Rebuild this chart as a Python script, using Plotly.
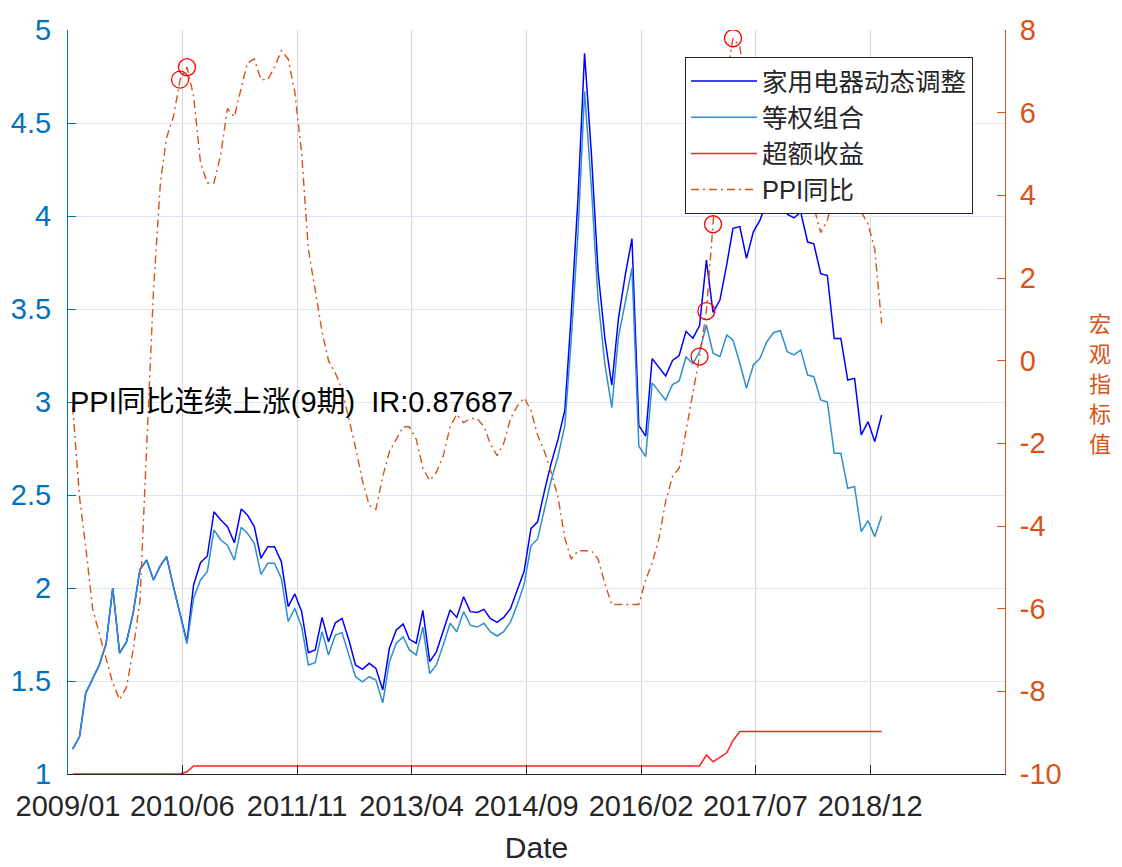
import pandas as pd
import plotly.graph_objects as go

# Data months (PPI month 2008-12 .. 2018-12), 121 points
months = pd.period_range("2008-12", "2018-12", freq="M")
# plotted position: roughly 3 weeks into following month (as in reference)
x_dates = [(p.to_timestamp() + pd.DateOffset(months=1) + pd.Timedelta(days=21)).strftime("%Y-%m-%d") for p in months]

dynamic_nav = [
    1.134, 1.20, 1.435, 1.515, 1.586, 1.70, 2.00, 1.65, 1.71, 1.864,
    2.10, 2.15, 2.043, 2.12, 2.168, 2.007, 1.864, 1.71, 2.016, 2.136,
    2.172, 2.41, 2.366, 2.33, 2.243, 2.425, 2.392, 2.33, 2.16, 2.222,
    2.222, 2.142, 1.90, 1.968, 1.873, 1.652, 1.667, 1.842, 1.711, 1.813,
    1.837, 1.72, 1.586, 1.563, 1.595, 1.568, 1.452, 1.676, 1.774, 1.806,
    1.724, 1.703, 1.88, 1.604, 1.657, 1.765, 1.882, 1.842, 1.953, 1.873,
    1.868, 1.885, 1.837, 1.815, 1.842, 1.89, 1.99, 2.09, 2.319, 2.356,
    2.522, 2.67, 2.799, 2.956, 3.456, 4.087, 4.875, 4.33, 3.70, 3.34,
    3.09, 3.45, 3.685, 3.878, 2.873, 2.817, 3.233, 3.186, 3.14, 3.223,
    3.25, 3.38, 3.343, 3.41, 3.763, 3.482, 3.548, 3.74, 3.934, 3.943,
    3.772, 3.915, 3.978, 4.08, 4.14, 4.15, 4.01, 3.99, 4.02, 3.86,
    3.85, 3.69, 3.68, 3.342, 3.342, 3.118, 3.127, 2.823, 2.894, 2.787,
    2.93,
]

equal_nav = [
    1.134, 1.20, 1.435, 1.515, 1.586, 1.70, 2.00, 1.65, 1.71, 1.864,
    2.10, 2.15, 2.043, 2.12, 2.168, 2.007, 1.864, 1.70, 1.945, 2.043,
    2.088, 2.312, 2.258, 2.23, 2.15, 2.326, 2.294, 2.24, 2.073, 2.133,
    2.133, 2.052, 1.82, 1.89, 1.79, 1.586, 1.598, 1.765, 1.64, 1.747,
    1.76, 1.64, 1.523, 1.496, 1.523, 1.505, 1.383, 1.604, 1.703, 1.738,
    1.667, 1.64, 1.79, 1.54, 1.586, 1.694, 1.81, 1.765, 1.873, 1.80,
    1.79, 1.81, 1.765, 1.742, 1.765, 1.818, 1.91, 2.02, 2.227, 2.264,
    2.43, 2.578, 2.707, 2.873, 3.323, 3.90, 4.67, 4.15, 3.55, 3.20,
    2.97, 3.35, 3.537, 3.72, 2.762, 2.707, 3.103, 3.057, 3.011, 3.094,
    3.113, 3.242, 3.205, 3.27, 3.414, 3.262, 3.244, 3.36, 3.333, 3.208,
    3.074, 3.199, 3.235, 3.324, 3.374, 3.383, 3.27, 3.253, 3.28, 3.145,
    3.136, 3.011, 3.00, 2.724, 2.724, 2.536, 2.545, 2.303, 2.362, 2.276,
    2.387,
]

excess = [
    1.0, 1.0, 1.0, 1.0, 1.0, 1.0, 1.0, 1.0, 1.0, 1.0,
    1.0, 1.0, 1.0, 1.0, 1.0, 1.0, 1.0, 1.012, 1.043, 1.043,
    1.043, 1.043, 1.043, 1.043, 1.043, 1.043, 1.043, 1.043, 1.043, 1.043,
    1.043, 1.043, 1.043, 1.043, 1.043, 1.043, 1.043, 1.043, 1.043, 1.043,
    1.043, 1.043, 1.043, 1.043, 1.043, 1.043, 1.043, 1.043, 1.043, 1.043,
    1.043, 1.043, 1.043, 1.043, 1.043, 1.043, 1.043, 1.043, 1.043, 1.043,
    1.043, 1.043, 1.043, 1.043, 1.043, 1.043, 1.043, 1.043, 1.043, 1.043,
    1.043, 1.043, 1.043, 1.043, 1.043, 1.043, 1.043, 1.043, 1.043, 1.043,
    1.043, 1.043, 1.043, 1.043, 1.043, 1.043, 1.043, 1.043, 1.043, 1.043,
    1.043, 1.043, 1.043, 1.043, 1.102, 1.066, 1.09, 1.114, 1.18, 1.228,
    1.228, 1.228, 1.228, 1.228, 1.228, 1.228, 1.228, 1.228, 1.228, 1.228,
    1.228, 1.228, 1.228, 1.228, 1.228, 1.228, 1.228, 1.228, 1.228, 1.228,
    1.228,
]

ppi_yoy = [
    -1.1,
    -3.3, -4.5, -6.0, -6.6, -7.2, -7.8, -8.2, -7.9, -7.0, -5.8, -2.1, 1.7,
    4.3, 5.4, 5.9, 6.8, 7.1, 6.4, 4.8, 4.3, 4.3, 5.0, 6.1, 5.9,
    6.6, 7.2, 7.3, 6.8, 6.8, 7.1, 7.5, 7.3, 6.5, 5.0, 2.7, 1.7,
    0.7, 0.0, -0.3, -0.7, -1.4, -2.1, -2.9, -3.5, -3.6, -2.8, -2.2, -1.9,
    -1.6, -1.6, -1.9, -2.6, -2.9, -2.7, -2.3, -1.6, -1.3, -1.5, -1.4, -1.4,
    -1.6, -2.0, -2.3, -2.0, -1.4, -1.1, -0.9, -1.2, -1.8, -2.2, -2.7, -3.3,
    -4.3, -4.8, -4.6, -4.6, -4.6, -4.8, -5.4, -5.9, -5.9, -5.9, -5.9, -5.9,
    -5.3, -4.9, -4.3, -3.4, -2.8, -2.6, -1.7, -0.8, 0.1, 1.2, 3.3, 5.5,
    6.9, 7.8, 7.6, 6.4, 5.5, 5.5, 5.5, 6.3, 6.9, 6.9, 5.8, 4.9,
    4.3, 3.7, 3.1, 3.4, 4.1, 4.7, 4.6, 4.1, 3.6, 3.3, 2.7, 0.9,
]

# months flagged by "PPI同比连续上涨(9期)" signal
signal_idx = [16, 17, 93, 94, 95, 96, 97, 98]

tick_dates = ["2009-01-01", "2010-06-01", "2011-11-01", "2013-04-01",
              "2014-09-01", "2016-02-01", "2017-07-01", "2018-12-01"]
tick_text = ["2009/01", "2010/06", "2011/11", "2013/04",
             "2014/09", "2016/02", "2017/07", "2018/12"]
left_ticks = [1, 1.5, 2, 2.5, 3, 3.5, 4, 4.5, 5]
right_ticks = [-10, -8, -6, -4, -2, 0, 2, 4, 6, 8]
right_text = ["-10", "-8", "-6", "-4", "-2", "0", "2", "4", "6", "8"]
right_title = "宏观指标值"

FONT = "Liberation Sans, Arial, Noto Sans CJK SC, sans-serif"
BLUE_AX = "#0072BD"
ORANGE = "#D95319"

fig = go.Figure()
fig.add_trace(go.Scatter(x=x_dates, y=dynamic_nav, mode="lines", name="家用电器动态调整",
                         line=dict(color="#0000FF", width=1.5)))
fig.add_trace(go.Scatter(x=x_dates, y=equal_nav, mode="lines", name="等权组合",
                         line=dict(color="#2f8fcc", width=1.5)))
fig.add_trace(go.Scatter(x=x_dates, y=excess, mode="lines", name="超额收益",
                         line=dict(color="#FF2020", width=1.5)))
fig.add_trace(go.Scatter(x=x_dates, y=ppi_yoy, mode="lines", name="PPI同比", yaxis="y2",
                         line=dict(color=ORANGE, width=1.4, dash="8px,4px,2px,4px")))
fig.add_trace(go.Scatter(x=[x_dates[i] for i in signal_idx], y=[ppi_yoy[i] for i in signal_idx],
                         mode="markers", yaxis="y2", showlegend=False,
                         marker=dict(symbol="circle-open", size=17, color="#FF0000",
                                     line=dict(width=1.3, color="#FF0000"))))

fig.add_annotation(x="2009-01-01", y=3, xref="x", yref="y", text="PPI同比连续上涨(9期)  IR:0.87687",
                   showarrow=False, xanchor="left", yanchor="middle",
                   font=dict(family=FONT, size=29, color="#000000"))

# vertical (stacked) right-axis title, one character per line
plot_top, plot_h = 30, 744
for k, ch in enumerate(right_title):
    ypx = 322 + 30 * k
    fig.add_annotation(x=1.1014, y=(plot_top + plot_h - ypx) / plot_h, xref="paper", yref="paper",
                       text=ch, showarrow=False, xanchor="center", yanchor="middle",
                       font=dict(family="Noto Sans CJK SC", size=22, color=ORANGE))

# page shows the figure offset by the default 8px body margin
fig.update_layout(
    width=1114, height=859,
    margin=dict(l=60, r=117, t=22, b=93),
    paper_bgcolor="white", plot_bgcolor="white",
    font=dict(family=FONT, size=28, color="#262626"),
    showlegend=True,
    legend=dict(x=0.6585, y=0.9637, xanchor="left", yanchor="top",
                bgcolor="white", bordercolor="#262626", borderwidth=1,
                font=dict(family=FONT, size=25.5, color="#262626"),
                itemwidth=66, tracegroupgap=0),
    xaxis=dict(type="date", range=["2009-01-01", "2020-08-01"],
               tickvals=tick_dates, ticktext=tick_text,
               showgrid=True, gridcolor="#d6d6d6", gridwidth=1,
               ticks="inside", ticklen=9, tickcolor="#262626", tickwidth=1,
               showline=True, linecolor="#262626", linewidth=1,
               tickfont=dict(size=29, color="#262626"), ticklabelstandoff=6,
               title=dict(text="Date", font=dict(size=30, color="#262626"), standoff=16),
               zeroline=False, automargin=False),
    yaxis=dict(range=[1, 5], tickvals=left_ticks,
               showgrid=True, gridcolor="#dbe8f4", gridwidth=1,
               ticks="inside", ticklen=8, tickcolor=BLUE_AX, tickwidth=1,
               showline=True, linecolor=BLUE_AX, linewidth=1,
               tickfont=dict(size=29, color=BLUE_AX), ticklabelstandoff=10,
               zeroline=False, automargin=False),
    yaxis2=dict(range=[-10, 8], tickvals=right_ticks, ticktext=right_text,
                overlaying="y", side="right", showgrid=False,
                ticks="inside", ticklen=8, tickcolor=ORANGE, tickwidth=1,
                showline=True, linecolor=ORANGE, linewidth=1,
                tickfont=dict(size=29, color=ORANGE), ticklabelstandoff=8,
                zeroline=False, automargin=False),
)

fig.write_html("out.html")
